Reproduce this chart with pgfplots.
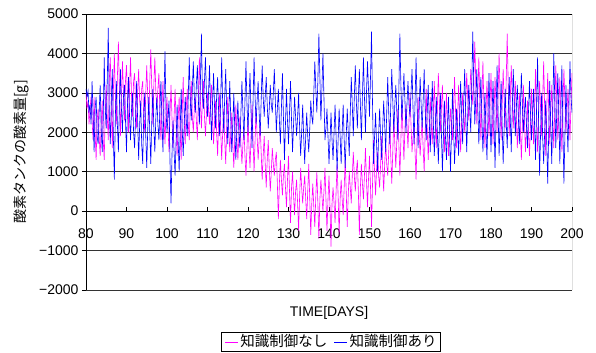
\documentclass[border=0pt]{standalone}
\usepackage{fontspec}
\setmainfont{Liberation Sans}
\newfontfamily\jp{Noto Sans CJK JP}
\usepackage{pgfplots}
\usepackage{pgfplotstable}
\pgfplotsset{compat=1.18}
\definecolor{mag}{RGB}{255,0,255}
\definecolor{blu}{RGB}{0,0,255}
\pgfplotstableread{
x m b
80 3000 3100
80.25 2600 2900
80.5 2800 3050
80.75 2200 2500
81 2600 2700
81.25 2900 2200
81.5 2300 3300
81.75 1800 2400
82 2900 1500
82.25 2000 2600
82.5 1300 2900
82.75 2300 1900
83 2600 1700
83.25 1900 2500
83.5 1400 3200
83.75 2200 2100
84 2800 1500
84.25 1800 2300
84.5 1300 3900
84.75 2500 2600
85 3200 2100
85.25 2400 3300
85.5 1800 4650
85.75 3300 2500
86 3900 1700
86.25 2700 2800
86.5 1600 3600
86.75 3000 1900
87 4000 800
87.25 2900 2400
87.5 2200 3300
87.75 3400 2200
88 4300 1500
88.25 3100 2700
88.5 1900 3600
88.75 2900 2600
89 3800 2000
89.25 3000 2900
89.5 2300 3200
89.75 3300 2300
90 3700 1500
90.25 2800 2700
90.5 2000 3400
90.75 3100 2400
91 3900 1800
91.25 2900 2600
91.5 2400 3000
91.75 3300 2000
92 3500 1600
92.25 2600 2400
92.5 2100 3300
92.75 3000 2300
93 3600 1300
93.25 2800 2200
93.5 2500 2800
93.75 3100 1700
94 3300 1200
94.25 2400 2400
94.5 2000 3000
94.75 3000 1900
95 3700 1100
95.25 2900 2100
95.5 2300 2900
95.75 3300 2000
96 4100 1200
96.25 3100 2300
96.5 2200 3100
96.75 3200 2100
97 3900 1500
97.25 3000 2400
97.5 2600 2900
97.75 3100 2200
98 3500 1800
98.25 2500 2600
98.5 1800 3300
98.75 2600 2300
99 3300 1500
99.25 2400 2800
99.5 1700 4050
99.75 2500 2600
100 2900 2000
100.25 2100 2400
100.5 1500 2800
100.75 2500 1200
101 3200 200
101.25 2300 1500
101.5 1600 2300
101.75 2400 1500
102 3100 900
102.25 2200 1800
102.5 1400 2700
102.75 2300 1800
103 2900 1000
103.25 2000 2000
103.5 1300 3100
103.75 2500 2100
104 3400 1400
104.25 2300 2200
104.5 1700 2900
104.75 2600 2300
105 3100 1900
105.25 2200 2900
105.5 1800 3900
105.75 2700 2800
106 3300 2300
106.25 2400 3100
106.5 2000 3800
106.75 2600 2900
107 2900 2500
107.25 2300 3200
107.5 1800 3700
107.75 2900 2800
108 3900 2200
108.25 2800 3300
108.5 2100 4500
108.75 2800 3000
109 3300 2600
109.25 2400 3300
109.5 1900 3900
109.75 2500 2900
110 3000 2400
110.25 2600 3000
110.5 2200 3700
110.75 2800 2600
111 3200 1800
111.25 2300 2800
111.5 1700 3500
111.75 2300 2600
112 2800 2100
112.25 2000 2900
112.5 1400 3400
112.75 2300 2500
113 3000 1900
113.25 2100 2800
113.5 1300 3900
113.75 2000 2700
114 2600 2000
114.25 1800 2900
114.5 1200 3600
114.75 2100 2500
115 2900 1700
115.25 2100 2500
115.5 1500 3300
115.75 2000 2300
116 2500 1500
116.25 1700 2200
116.5 1100 3000
116.75 1900 2000
117 2700 1300
117.25 1900 2100
117.5 1300 2800
117.75 1900 2000
118 2400 1600
118.25 1700 2500
118.5 1200 3300
118.75 1700 2500
119 2100 1800
119.25 1400 2800
119.5 900 3800
119.75 1600 2700
120 2300 2000
120.25 1600 2900
120.5 1100 3500
120.75 1900 2500
121 2700 1600
121.25 1800 2800
121.5 1000 3900
121.75 1800 2900
122 2600 2200
122.25 1900 2800
122.5 1300 3300
122.75 1800 2500
123 2200 1900
123.25 1500 2800
123.5 800 3700
123.75 1400 2900
124 1900 2400
124.25 1200 2900
124.5 600 3400
124.75 1300 2700
125 1800 2100
125.25 1100 2600
125.5 500 3200
125.75 1000 2700
126 1600 2500
126.25 1200 3000
126.5 900 3600
126.75 1300 2800
127 1500 2000
127.25 700 2600
127.5 -200 3100
127.75 700 2300
128 1300 1700
128.25 800 2600
128.5 400 3500
128.75 900 2400
129 1200 1300
129.25 600 2200
129.5 100 3100
129.75 800 2300
130 1400 1700
130.25 500 2500
130.5 -300 3300
130.75 600 2300
131 1000 1500
131.25 400 2200
131.5 -100 2900
131.75 500 2400
132 800 1900
132.25 200 2400
132.5 -500 3000
132.75 400 2100
133 1100 1400
133.25 600 2000
133.5 200 2700
133.75 600 1900
134 900 1200
134.25 300 1900
134.5 -200 2500
134.75 500 1900
135 1200 1500
135.25 300 2100
135.5 -600 2800
135.75 200 2400
136 700 2200
136.25 100 3000
136.5 -400 3800
136.75 400 3100
137 1000 2500
137.25 200 3300
137.5 -700 4500
137.75 300 3400
138 800 2300
138.25 400 3100
138.5 0 4000
138.75 500 2900
139 1100 1800
139.25 300 2100
139.5 -500 2600
139.75 300 1900
140 900 1200
140.25 100 1800
140.5 -900 2500
140.75 200 1800
141 600 1300
141.25 200 2000
141.5 -300 2700
141.75 500 1900
142 1200 1000
142.25 400 1800
142.5 -600 2600
142.75 300 1900
143 800 1200
143.25 300 2000
143.5 -100 2700
143.75 600 1800
144 1300 1100
144.25 500 1900
144.5 -400 2600
144.75 400 2000
145 1000 1400
145.25 600 2500
145.5 200 3400
145.75 900 2700
146 1500 1900
146.25 900 2900
146.5 500 3700
146.75 1000 2800
147 1300 2100
147.25 500 2900
147.5 -600 3600
147.75 600 2700
148 1200 1800
148.25 700 2900
148.5 300 3900
148.75 900 2900
149 1600 2000
149.25 800 3000
149.5 100 3800
149.75 800 3100
150 1400 2400
150.25 600 3400
150.5 -400 4550
150.75 700 2700
151 1800 1200
151.25 1000 1900
151.5 400 2500
151.75 1100 1700
152 1500 1000
152.25 900 1900
152.5 600 2600
152.75 1200 1900
153 1900 1300
153.25 1100 2100
153.5 500 2800
153.75 1200 2200
154 1700 1500
154.25 1200 2500
154.5 900 3400
154.75 1500 2500
155 2300 1700
155.25 1400 2700
155.5 700 3600
155.75 1500 2800
156 2400 2000
156.25 1700 2700
156.5 1100 3200
156.75 1800 2500
157 2600 1800
157.25 1700 3100
157.5 900 4500
157.75 1800 3200
158 2800 2300
158.25 2000 2900
158.5 1300 3500
158.75 2100 2800
159 2700 2000
159.25 2200 2700
159.5 1600 3300
159.75 2300 2700
160 3000 2400
160.25 2200 3000
160.5 1500 3600
160.75 1900 2600
161 2200 1700
161.25 1500 2800
161.5 800 3900
161.75 1900 2700
162 2900 1600
162.25 2000 2500
162.5 1400 3400
162.75 1900 2700
163 2300 2100
163.25 1600 2800
163.5 1000 3600
163.75 2000 2600
164 3100 1800
164.25 2100 2500
164.5 1300 3200
164.75 2100 2300
165 2900 1500
165.25 2200 2400
165.5 1700 3300
165.75 2500 2300
166 3300 1400
166.25 2400 2100
166.5 1600 2900
166.75 2600 2000
167 3500 1200
167.25 2700 2100
167.5 2000 3000
167.75 2600 2000
168 3200 1000
168.25 2300 1900
168.5 1500 2800
168.75 2200 1900
169 3000 1300
169.25 2100 2100
169.5 1400 2900
169.75 2000 1900
170 2600 1000
170.25 2200 2000
170.5 1800 3100
170.75 2600 2100
171 3400 1200
171.25 2500 1900
171.5 1600 2600
171.75 2400 2000
172 3200 1400
172.25 2300 2300
172.5 1500 3300
172.75 2300 2400
173 3000 1700
173.25 2500 2700
173.5 2000 3600
173.75 2700 2500
174 3500 1500
174.25 2900 2400
174.5 2300 3200
174.75 2900 2600
175 3600 2000
175.25 3100 3200
175.5 2700 4550
175.75 3400 3200
176 4300 2200
176.25 3200 2900
176.5 2200 3600
176.75 3000 2600
177 3900 1700
177.25 2800 2600
177.5 1800 3400
177.75 2800 2400
178 3800 1500
178.25 2700 2200
178.5 1600 3000
178.75 2400 2100
179 3300 1300
179.25 2600 2400
179.5 1900 3500
179.75 2700 2400
180 3500 1500
180.25 2600 2400
180.5 1700 3300
180.75 2500 2200
181 3400 1100
181.25 2700 2400
181.5 2000 3700
181.75 3000 2500
182 4000 1400
182.25 2900 2300
182.5 1800 3300
182.75 2700 2200
183 3600 1200
183.25 2800 2100
183.5 2100 3100
183.75 3300 2300
184 4500 1600
184.25 3200 2500
184.5 1900 3400
184.75 2800 2400
185 3700 1500
185.25 2900 2600
185.5 2100 3600
185.75 2700 2700
186 3300 1900
186.25 2400 2600
186.5 1600 3200
186.75 2300 2400
187 3000 1700
187.25 2100 2600
187.5 1300 3500
187.75 2200 2700
188 3200 2000
188.25 2300 2500
188.5 1500 2900
188.75 2100 2200
189 2800 1600
189.25 2000 2500
189.5 1400 3300
189.75 2200 2500
190 3100 1800
190.25 2400 2500
190.5 1700 3100
190.75 2600 2200
191 3600 1300
191.25 2500 2600
191.5 1500 3900
191.75 2400 2300
192 3300 900
192.25 2600 2000
192.5 1900 3000
192.75 2800 1900
193 3800 1200
193.25 2600 2000
193.5 1400 2800
193.75 2500 1800
194 3500 700
194.25 2600 2000
194.5 1700 3300
194.75 2500 2200
195 3200 1200
195.25 2400 2600
195.5 1600 4000
195.75 2600 2800
196 3700 1600
196.25 2700 2600
196.5 1800 3500
196.75 2600 2400
197 3400 1200
197.25 2400 2500
197.5 1500 3700
197.75 2600 2100
198 3600 700
198.25 2800 1900
198.5 2000 3200
198.75 2500 2300
199 3100 1500
199.25 2500 2700
199.5 1800 3800
199.75 2700 2900
200 3500 2500
}\data
\begin{document}
\begin{tikzpicture}
\path[use as bounding box] (-86bp,-63bp) rectangle (510bp,290bp);
\begin{axis}[
  scale only axis,
  width=486bp, height=276bp,
  xmin=80, xmax=200, ymin=-2000, ymax=5000,
  axis x line*=middle, axis y line*=left,
  hide obscured x ticks=false,
  xtick={80,90,...,200},
  xticklabels={80,90,100,110,120,130,140,150,160,170,180,190,200},
  ytick={-2000,-1000,...,5000},
  yticklabels={−2000,−1000,0,1000,2000,3000,4000,5000},
  xtick align=inside, ytick align=outside,
  major tick length=4bp,
  ymajorgrids,
  major grid style={black!80, line width=0.6pt},
  x axis line style={black, line width=1pt},
  y axis line style={black, line width=0.8pt},
  tick style={black, line width=0.5pt},
  tick label style={font=\fontsize{14bp}{16bp}\selectfont},
  xticklabel style={yshift=-14bp},
  every axis x label/.style={at={(axis description cs:0.5,-0.083)}, anchor=center},
  every axis y label/.style={at={(axis description cs:-0.132,0.5)}, anchor=center, rotate=90},
  label style={font=\fontsize{14bp}{16bp}\selectfont},
  xlabel={TIME[DAYS]},
  ylabel={\jp 酸素タンクの酸素量[g]},
  legend style={at={(0.504,-0.187)}, anchor=center,
    legend columns=2, font=\jp\fontsize{14.5bp}{16bp}\selectfont,
    inner xsep=2bp, inner ysep=1bp, /tikz/every even column/.append style={column sep=3bp}},
  legend image code/.code={},
]
\draw[black, line width=0.8pt] (rel axis cs:0,0) rectangle (rel axis cs:1,1);
\addplot[color=mag, line width=0.6pt] table[x=x, y=m] {\data};
\addlegendentry{\textcolor{mag}{\rule[0.3em]{0.45cm}{1pt}}\,知識制御なし}
\addplot[color=blu, line width=0.6pt] table[x=x, y=b] {\data};
\addlegendentry{\textcolor{blu}{\rule[0.3em]{0.45cm}{1pt}}\,知識制御あり}
\end{axis}
\end{tikzpicture}
\end{document}
